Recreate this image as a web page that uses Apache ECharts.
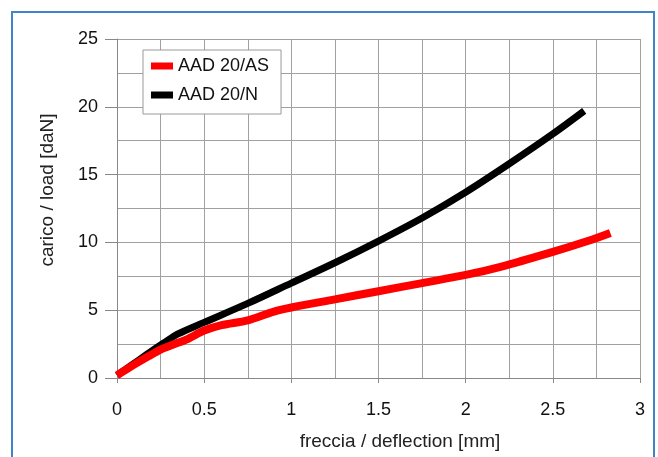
<!DOCTYPE html>
<html><head><meta charset="utf-8">
<script src="https://cdn.jsdelivr.net/npm/echarts@6/dist/echarts.min.js"></script>
<style>html,body{margin:0;padding:0;background:#fff}#c{width:658px;height:457px}</style>
</head><body><div id="c"></div>
<script>
const seriesNames = ['AAD 20/AS', 'AAD 20/N'];
const asData = [[0,0.2],[0.05,0.6],[0.1,1.0],[0.18,1.6],[0.25,2.1],[0.32,2.45],[0.4,2.85],[0.5,3.5],[0.6,3.9],[0.75,4.25],[0.9,4.9],[1.0,5.2],[1.25,5.8],[1.5,6.4],[1.75,7.0],[2.0,7.6],[2.2,8.2],[2.5,9.3],[2.7,10.1],[2.83,10.7]];
const nData = [[0,0.2],[0.1,1.1],[0.2,2.0],[0.27,2.6],[0.35,3.25],[0.5,4.1],[0.75,5.5],[1.0,7.0],[1.25,8.5],[1.5,10.1],[1.75,11.8],[2.0,13.7],[2.25,15.8],[2.5,18.0],[2.68,19.7]];
const xTicks = [0,0.5,1,1.5,2,2.5,3];
const yTicks = [0,5,10,15,20,25];
const xTitle = 'freccia / deflection [mm]';
const yTitle = 'carico / load [daN]';

const chart = echarts.init(document.getElementById('c'));
const gridCol = '#a0a0a0';
chart.setOption({
  animation:false,
  textStyle:{fontFamily:'Liberation Sans'},
  graphic:[
    {type:'rect',shape:{x:12,y:12,width:642,height:460},style:{fill:'none',stroke:'#3d85c6',lineWidth:2}},
    {type:'text',x:48,y:190,rotation:Math.PI/2,style:{text:yTitle,font:'19px "Liberation Sans"',fill:'#222',textAlign:'center',textVerticalAlign:'middle'}},
    {type:'text',x:400,y:442,style:{text:xTitle,font:'19px "Liberation Sans"',fill:'#222',textAlign:'center',textVerticalAlign:'middle'}}
  ],
  grid:{left:117,right:18,top:39,bottom:79},
  legend:{
    left:143,top:50,orient:'vertical',
    padding:[7,12,10,8],itemGap:11,
    backgroundColor:'#fff',borderColor:'#999',borderWidth:1,borderRadius:0,
    itemWidth:22,itemHeight:7,icon:'rect',
    textStyle:{fontSize:18,color:'#111',fontFamily:'Liberation Sans'},
    data:seriesNames
  },
  xAxis:{
    type:'value',min:0,max:3,interval:0.5,
    axisLine:{show:true,lineStyle:{color:'#888'}},
    axisTick:{show:true,length:5,lineStyle:{color:'#888'}},
    axisLabel:{fontSize:18,color:'#111',margin:23,formatter:v=>String(v)},
    splitLine:{show:true,lineStyle:{color:gridCol,width:1}},
    minorTick:{show:false,splitNumber:2},
    minorSplitLine:{show:true,lineStyle:{color:gridCol,width:1}}
  },
  yAxis:{
    type:'value',min:0,max:25,interval:5,
    axisLine:{show:true,lineStyle:{color:'#888'}},
    axisTick:{show:true,length:12,lineStyle:{color:'#888'}},
    axisLabel:{fontSize:18,color:'#111',margin:19},
    splitLine:{show:true,lineStyle:{color:gridCol,width:1}},
    minorTick:{show:false,splitNumber:2},
    minorSplitLine:{show:true,lineStyle:{color:gridCol,width:1}}
  },
  series:[
    {name:seriesNames[0],type:'line',data:asData,smooth:0.3,showSymbol:false,lineStyle:{color:'#ff0000',width:8},itemStyle:{color:'#ff0000'},z:3},
    {name:seriesNames[1],type:'line',data:nData,smooth:0.3,showSymbol:false,lineStyle:{color:'#000',width:7},itemStyle:{color:'#000'},z:2}
  ]
});
</script></body></html>
